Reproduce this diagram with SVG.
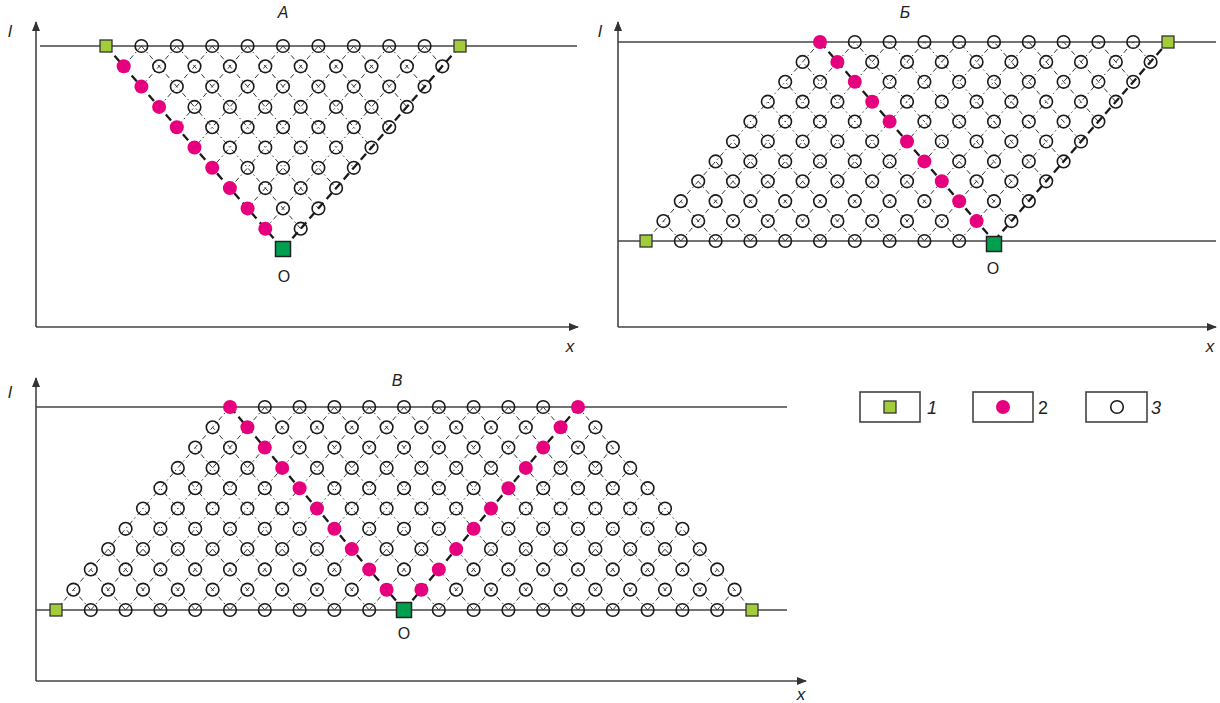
<svg xmlns="http://www.w3.org/2000/svg" width="1220" height="703" viewBox="0 0 1220 703">
<style>
.ax{stroke:#444;stroke-width:1.6;fill:none}
.hl{stroke:#444;stroke-width:1.5;fill:none}
.t{stroke:#333;stroke-width:1;stroke-dasharray:5 3 1.5 3;fill:none}
.k{stroke:#1a1a1a;stroke-width:2.3;stroke-dasharray:8 5;fill:none}
.lb{font-family:"Liberation Sans",Arial,sans-serif;fill:#222}
.it{font-style:italic}
.lg{fill:#fff;stroke:#444;stroke-width:1.6}
</style>
<defs>
<marker id="ar" markerWidth="10" markerHeight="8" refX="9" refY="4" orient="auto" markerUnits="userSpaceOnUse"><path d="M0,0 L10,4 L0,8 Z" fill="#333"/></marker>
<circle id="c" r="6.3" fill="none" stroke="#1a1a1a" stroke-width="1.6"/>
<circle id="p" r="7" fill="#e6007e"/>
<rect id="s" x="-6" y="-6" width="12" height="12" fill="#a3cc3a" stroke="#333" stroke-width="1.3"/>
<rect id="o" x="-7.5" y="-7.5" width="15" height="15" fill="#00a04f" stroke="#222" stroke-width="1.5"/>
</defs>
<rect width="1220" height="703" fill="#fff"/>

<!-- axes and reference lines -->
<g id="axes">
<line class="ax" x1="36" y1="327" x2="36" y2="22" marker-end="url(#ar)"/>
<line class="ax" x1="36" y1="327" x2="578" y2="327" marker-end="url(#ar)"/>
<line class="hl" x1="40" y1="46" x2="577" y2="46"/>
<line class="ax" x1="618" y1="327" x2="618" y2="22" marker-end="url(#ar)"/>
<line class="ax" x1="618" y1="327" x2="1216" y2="327" marker-end="url(#ar)"/>
<line class="hl" x1="618" y1="42" x2="1216" y2="42"/>
<line class="hl" x1="618" y1="241" x2="1216" y2="241"/>
<line class="ax" x1="36" y1="681" x2="36" y2="378" marker-end="url(#ar)"/>
<line class="ax" x1="36" y1="681" x2="806" y2="681" marker-end="url(#ar)"/>
<line class="hl" x1="36" y1="407" x2="787" y2="407"/>
<line class="hl" x1="36" y1="610" x2="787" y2="610"/>
</g>

<g id="connectors">
<g id="conn-A">
<line class="t" x1="141.4" y1="46" x2="300.7" y2="228.7"/>
<line class="t" x1="176.8" y1="46" x2="318.4" y2="208.4"/>
<line class="t" x1="212.2" y1="46" x2="336.1" y2="188.1"/>
<line class="t" x1="247.6" y1="46" x2="353.8" y2="167.8"/>
<line class="t" x1="283" y1="46" x2="371.5" y2="147.5"/>
<line class="t" x1="318.4" y1="46" x2="389.2" y2="127.2"/>
<line class="t" x1="353.8" y1="46" x2="406.9" y2="106.9"/>
<line class="t" x1="389.2" y1="46" x2="424.6" y2="86.6"/>
<line class="t" x1="424.6" y1="46" x2="442.3" y2="66.3"/>
<line class="t" x1="424.6" y1="46" x2="265.3" y2="228.7"/>
<line class="t" x1="389.2" y1="46" x2="247.6" y2="208.4"/>
<line class="t" x1="353.8" y1="46" x2="229.9" y2="188.1"/>
<line class="t" x1="318.4" y1="46" x2="212.2" y2="167.8"/>
<line class="t" x1="283" y1="46" x2="194.5" y2="147.5"/>
<line class="t" x1="247.6" y1="46" x2="176.8" y2="127.2"/>
<line class="t" x1="212.2" y1="46" x2="159.1" y2="106.9"/>
<line class="t" x1="176.8" y1="46" x2="141.4" y2="86.6"/>
<line class="t" x1="141.4" y1="46" x2="123.7" y2="66.3"/>
<line class="k" x1="106" y1="46" x2="283" y2="249"/>
<line class="k" x1="460" y1="46" x2="283" y2="249"/>
</g>
<g id="conn-B">
<line class="t" x1="646" y1="241" x2="820" y2="42"/>
<line class="t" x1="680.8" y1="241" x2="854.8" y2="42"/>
<line class="t" x1="715.6" y1="241" x2="889.6" y2="42"/>
<line class="t" x1="750.4" y1="241" x2="924.4" y2="42"/>
<line class="t" x1="785.2" y1="241" x2="959.2" y2="42"/>
<line class="t" x1="820" y1="241" x2="994" y2="42"/>
<line class="t" x1="854.8" y1="241" x2="1028.8" y2="42"/>
<line class="t" x1="889.6" y1="241" x2="1063.6" y2="42"/>
<line class="t" x1="924.4" y1="241" x2="1098.4" y2="42"/>
<line class="t" x1="959.2" y1="241" x2="1133.2" y2="42"/>
<line class="t" x1="680.8" y1="241" x2="663.4" y2="221.1"/>
<line class="t" x1="715.6" y1="241" x2="680.8" y2="201.2"/>
<line class="t" x1="750.4" y1="241" x2="698.2" y2="181.3"/>
<line class="t" x1="785.2" y1="241" x2="715.6" y2="161.4"/>
<line class="t" x1="820" y1="241" x2="733" y2="141.5"/>
<line class="t" x1="854.8" y1="241" x2="750.4" y2="121.6"/>
<line class="t" x1="889.6" y1="241" x2="767.8" y2="101.7"/>
<line class="t" x1="924.4" y1="241" x2="785.2" y2="81.8"/>
<line class="t" x1="959.2" y1="241" x2="802.6" y2="61.9"/>
<line class="t" x1="1011.4" y1="221.1" x2="854.8" y2="42"/>
<line class="t" x1="1028.8" y1="201.2" x2="889.6" y2="42"/>
<line class="t" x1="1046.2" y1="181.3" x2="924.4" y2="42"/>
<line class="t" x1="1063.6" y1="161.4" x2="959.2" y2="42"/>
<line class="t" x1="1081" y1="141.5" x2="994" y2="42"/>
<line class="t" x1="1098.4" y1="121.6" x2="1028.8" y2="42"/>
<line class="t" x1="1115.8" y1="101.7" x2="1063.6" y2="42"/>
<line class="t" x1="1133.2" y1="81.8" x2="1098.4" y2="42"/>
<line class="t" x1="1150.6" y1="61.9" x2="1133.2" y2="42"/>
<line class="k" x1="820" y1="42" x2="994" y2="241"/>
<line class="k" x1="994" y1="241" x2="1168" y2="42"/>
</g>
<g id="conn-V">
<line class="t" x1="56" y1="610" x2="230" y2="407"/>
<line class="t" x1="90.8" y1="610" x2="264.8" y2="407"/>
<line class="t" x1="125.6" y1="610" x2="299.6" y2="407"/>
<line class="t" x1="160.4" y1="610" x2="334.4" y2="407"/>
<line class="t" x1="195.2" y1="610" x2="369.2" y2="407"/>
<line class="t" x1="230" y1="610" x2="404" y2="407"/>
<line class="t" x1="264.8" y1="610" x2="438.8" y2="407"/>
<line class="t" x1="299.6" y1="610" x2="473.6" y2="407"/>
<line class="t" x1="334.4" y1="610" x2="508.4" y2="407"/>
<line class="t" x1="369.2" y1="610" x2="543.2" y2="407"/>
<line class="t" x1="438.8" y1="610" x2="595.4" y2="427.3"/>
<line class="t" x1="473.6" y1="610" x2="612.8" y2="447.6"/>
<line class="t" x1="508.4" y1="610" x2="630.2" y2="467.9"/>
<line class="t" x1="543.2" y1="610" x2="647.6" y2="488.2"/>
<line class="t" x1="578" y1="610" x2="665" y2="508.5"/>
<line class="t" x1="612.8" y1="610" x2="682.4" y2="528.8"/>
<line class="t" x1="647.6" y1="610" x2="699.8" y2="549.1"/>
<line class="t" x1="682.4" y1="610" x2="717.2" y2="569.4"/>
<line class="t" x1="717.2" y1="610" x2="734.6" y2="589.7"/>
<line class="t" x1="90.8" y1="610" x2="73.4" y2="589.7"/>
<line class="t" x1="125.6" y1="610" x2="90.8" y2="569.4"/>
<line class="t" x1="160.4" y1="610" x2="108.2" y2="549.1"/>
<line class="t" x1="195.2" y1="610" x2="125.6" y2="528.8"/>
<line class="t" x1="230" y1="610" x2="143" y2="508.5"/>
<line class="t" x1="264.8" y1="610" x2="160.4" y2="488.2"/>
<line class="t" x1="299.6" y1="610" x2="177.8" y2="467.9"/>
<line class="t" x1="334.4" y1="610" x2="195.2" y2="447.6"/>
<line class="t" x1="369.2" y1="610" x2="212.6" y2="427.3"/>
<line class="t" x1="438.8" y1="610" x2="264.8" y2="407"/>
<line class="t" x1="473.6" y1="610" x2="299.6" y2="407"/>
<line class="t" x1="508.4" y1="610" x2="334.4" y2="407"/>
<line class="t" x1="543.2" y1="610" x2="369.2" y2="407"/>
<line class="t" x1="578" y1="610" x2="404" y2="407"/>
<line class="t" x1="612.8" y1="610" x2="438.8" y2="407"/>
<line class="t" x1="647.6" y1="610" x2="473.6" y2="407"/>
<line class="t" x1="682.4" y1="610" x2="508.4" y2="407"/>
<line class="t" x1="717.2" y1="610" x2="543.2" y2="407"/>
<line class="t" x1="752" y1="610" x2="578" y2="407"/>
<line class="k" x1="230" y1="407" x2="404" y2="610"/>
<line class="k" x1="404" y1="610" x2="578" y2="407"/>
</g>
</g>

<!-- Panel A nodes -->
<g id="nodes-A">
<use id="a0_0" href="#o" x="283" y="249"/>
<g id="a-row1" transform="translate(265.3,228.7)"><use id="a1_0" href="#p"/><use id="a1_1" href="#c" x="35.4"/></g>
<g id="a-row2" transform="translate(247.6,208.4)"><use id="a2_0" href="#p"/><use id="a2_1" href="#c" x="35.4"/><use id="a2_2" href="#c" x="70.8"/></g>
<g id="a-row3" transform="translate(229.9,188.1)"><use id="a3_0" href="#p"/><use id="a3_1" href="#c" x="35.4"/><use id="a3_2" href="#c" x="70.8"/><use id="a3_3" href="#c" x="106.2"/></g>
<g id="a-row4" transform="translate(212.2,167.8)"><use id="a4_0" href="#p"/><use id="a4_1" href="#c" x="35.4"/><use id="a4_2" href="#c" x="70.8"/><use id="a4_3" href="#c" x="106.2"/><use id="a4_4" href="#c" x="141.6"/></g>
<g id="a-row5" transform="translate(194.5,147.5)"><use id="a5_0" href="#p"/><use id="a5_1" href="#c" x="35.4"/><use id="a5_2" href="#c" x="70.8"/><use id="a5_3" href="#c" x="106.2"/><use id="a5_4" href="#c" x="141.6"/><use id="a5_5" href="#c" x="177"/></g>
<g id="a-row6" transform="translate(176.8,127.2)"><use id="a6_0" href="#p"/><use id="a6_1" href="#c" x="35.4"/><use id="a6_2" href="#c" x="70.8"/><use id="a6_3" href="#c" x="106.2"/><use id="a6_4" href="#c" x="141.6"/><use id="a6_5" href="#c" x="177"/><use id="a6_6" href="#c" x="212.4"/></g>
<g id="a-row7" transform="translate(159.1,106.9)"><use id="a7_0" href="#p"/><use id="a7_1" href="#c" x="35.4"/><use id="a7_2" href="#c" x="70.8"/><use id="a7_3" href="#c" x="106.2"/><use id="a7_4" href="#c" x="141.6"/><use id="a7_5" href="#c" x="177"/><use id="a7_6" href="#c" x="212.4"/><use id="a7_7" href="#c" x="247.8"/></g>
<g id="a-row8" transform="translate(141.4,86.6)"><use id="a8_0" href="#p"/><use id="a8_1" href="#c" x="35.4"/><use id="a8_2" href="#c" x="70.8"/><use id="a8_3" href="#c" x="106.2"/><use id="a8_4" href="#c" x="141.6"/><use id="a8_5" href="#c" x="177"/><use id="a8_6" href="#c" x="212.4"/><use id="a8_7" href="#c" x="247.8"/><use id="a8_8" href="#c" x="283.2"/></g>
<g id="a-row9" transform="translate(123.7,66.3)"><use id="a9_0" href="#p"/><use id="a9_1" href="#c" x="35.4"/><use id="a9_2" href="#c" x="70.8"/><use id="a9_3" href="#c" x="106.2"/><use id="a9_4" href="#c" x="141.6"/><use id="a9_5" href="#c" x="177"/><use id="a9_6" href="#c" x="212.4"/><use id="a9_7" href="#c" x="247.8"/><use id="a9_8" href="#c" x="283.2"/><use id="a9_9" href="#c" x="318.6"/></g>
<g id="a-row10" transform="translate(106,46)"><use id="a10_0" href="#s"/><use id="a10_1" href="#c" x="35.4"/><use id="a10_2" href="#c" x="70.8"/><use id="a10_3" href="#c" x="106.2"/><use id="a10_4" href="#c" x="141.6"/><use id="a10_5" href="#c" x="177"/><use id="a10_6" href="#c" x="212.4"/><use id="a10_7" href="#c" x="247.8"/><use id="a10_8" href="#c" x="283.2"/><use id="a10_9" href="#c" x="318.6"/><use id="a10_10" href="#s" x="354"/></g>
</g>

<!-- Panel B nodes -->
<g id="nodes-B">
<g id="b-row0" transform="translate(646,241)"><use id="b0_0" href="#s"/><use id="b0_1" href="#c" x="34.8"/><use id="b0_2" href="#c" x="69.6"/><use id="b0_3" href="#c" x="104.4"/><use id="b0_4" href="#c" x="139.2"/><use id="b0_5" href="#c" x="174"/><use id="b0_6" href="#c" x="208.8"/><use id="b0_7" href="#c" x="243.6"/><use id="b0_8" href="#c" x="278.4"/><use id="b0_9" href="#c" x="313.2"/><use id="b0_10" href="#o" x="348" y="3"/></g>
<g id="b-row1" transform="translate(663.4,221.1)"><use id="b1_0" href="#c"/><use id="b1_1" href="#c" x="34.8"/><use id="b1_2" href="#c" x="69.6"/><use id="b1_3" href="#c" x="104.4"/><use id="b1_4" href="#c" x="139.2"/><use id="b1_5" href="#c" x="174"/><use id="b1_6" href="#c" x="208.8"/><use id="b1_7" href="#c" x="243.6"/><use id="b1_8" href="#c" x="278.4"/><use id="b1_9" href="#p" x="313.2"/><use id="b1_10" href="#c" x="348"/></g>
<g id="b-row2" transform="translate(680.8,201.2)"><use id="b2_0" href="#c"/><use id="b2_1" href="#c" x="34.8"/><use id="b2_2" href="#c" x="69.6"/><use id="b2_3" href="#c" x="104.4"/><use id="b2_4" href="#c" x="139.2"/><use id="b2_5" href="#c" x="174"/><use id="b2_6" href="#c" x="208.8"/><use id="b2_7" href="#c" x="243.6"/><use id="b2_8" href="#p" x="278.4"/><use id="b2_9" href="#c" x="313.2"/><use id="b2_10" href="#c" x="348"/></g>
<g id="b-row3" transform="translate(698.2,181.3)"><use id="b3_0" href="#c"/><use id="b3_1" href="#c" x="34.8"/><use id="b3_2" href="#c" x="69.6"/><use id="b3_3" href="#c" x="104.4"/><use id="b3_4" href="#c" x="139.2"/><use id="b3_5" href="#c" x="174"/><use id="b3_6" href="#c" x="208.8"/><use id="b3_7" href="#p" x="243.6"/><use id="b3_8" href="#c" x="278.4"/><use id="b3_9" href="#c" x="313.2"/><use id="b3_10" href="#c" x="348"/></g>
<g id="b-row4" transform="translate(715.6,161.4)"><use id="b4_0" href="#c"/><use id="b4_1" href="#c" x="34.8"/><use id="b4_2" href="#c" x="69.6"/><use id="b4_3" href="#c" x="104.4"/><use id="b4_4" href="#c" x="139.2"/><use id="b4_5" href="#c" x="174"/><use id="b4_6" href="#p" x="208.8"/><use id="b4_7" href="#c" x="243.6"/><use id="b4_8" href="#c" x="278.4"/><use id="b4_9" href="#c" x="313.2"/><use id="b4_10" href="#c" x="348"/></g>
<g id="b-row5" transform="translate(733,141.5)"><use id="b5_0" href="#c"/><use id="b5_1" href="#c" x="34.8"/><use id="b5_2" href="#c" x="69.6"/><use id="b5_3" href="#c" x="104.4"/><use id="b5_4" href="#c" x="139.2"/><use id="b5_5" href="#p" x="174"/><use id="b5_6" href="#c" x="208.8"/><use id="b5_7" href="#c" x="243.6"/><use id="b5_8" href="#c" x="278.4"/><use id="b5_9" href="#c" x="313.2"/><use id="b5_10" href="#c" x="348"/></g>
<g id="b-row6" transform="translate(750.4,121.6)"><use id="b6_0" href="#c"/><use id="b6_1" href="#c" x="34.8"/><use id="b6_2" href="#c" x="69.6"/><use id="b6_3" href="#c" x="104.4"/><use id="b6_4" href="#p" x="139.2"/><use id="b6_5" href="#c" x="174"/><use id="b6_6" href="#c" x="208.8"/><use id="b6_7" href="#c" x="243.6"/><use id="b6_8" href="#c" x="278.4"/><use id="b6_9" href="#c" x="313.2"/><use id="b6_10" href="#c" x="348"/></g>
<g id="b-row7" transform="translate(767.8,101.7)"><use id="b7_0" href="#c"/><use id="b7_1" href="#c" x="34.8"/><use id="b7_2" href="#c" x="69.6"/><use id="b7_3" href="#p" x="104.4"/><use id="b7_4" href="#c" x="139.2"/><use id="b7_5" href="#c" x="174"/><use id="b7_6" href="#c" x="208.8"/><use id="b7_7" href="#c" x="243.6"/><use id="b7_8" href="#c" x="278.4"/><use id="b7_9" href="#c" x="313.2"/><use id="b7_10" href="#c" x="348"/></g>
<g id="b-row8" transform="translate(785.2,81.8)"><use id="b8_0" href="#c"/><use id="b8_1" href="#c" x="34.8"/><use id="b8_2" href="#p" x="69.6"/><use id="b8_3" href="#c" x="104.4"/><use id="b8_4" href="#c" x="139.2"/><use id="b8_5" href="#c" x="174"/><use id="b8_6" href="#c" x="208.8"/><use id="b8_7" href="#c" x="243.6"/><use id="b8_8" href="#c" x="278.4"/><use id="b8_9" href="#c" x="313.2"/><use id="b8_10" href="#c" x="348"/></g>
<g id="b-row9" transform="translate(802.6,61.9)"><use id="b9_0" href="#c"/><use id="b9_1" href="#p" x="34.8"/><use id="b9_2" href="#c" x="69.6"/><use id="b9_3" href="#c" x="104.4"/><use id="b9_4" href="#c" x="139.2"/><use id="b9_5" href="#c" x="174"/><use id="b9_6" href="#c" x="208.8"/><use id="b9_7" href="#c" x="243.6"/><use id="b9_8" href="#c" x="278.4"/><use id="b9_9" href="#c" x="313.2"/><use id="b9_10" href="#c" x="348"/></g>
<g id="b-row10" transform="translate(820,42)"><use id="b10_0" href="#p"/><use id="b10_1" href="#c" x="34.8"/><use id="b10_2" href="#c" x="69.6"/><use id="b10_3" href="#c" x="104.4"/><use id="b10_4" href="#c" x="139.2"/><use id="b10_5" href="#c" x="174"/><use id="b10_6" href="#c" x="208.8"/><use id="b10_7" href="#c" x="243.6"/><use id="b10_8" href="#c" x="278.4"/><use id="b10_9" href="#c" x="313.2"/><use id="b10_10" href="#s" x="348"/></g>
</g>

<!-- Panel V nodes -->
<g id="nodes-V">
<g id="v-row0" transform="translate(56,610)"><use id="v0_0" href="#s"/><use id="v0_1" href="#c" x="34.8"/><use id="v0_2" href="#c" x="69.6"/><use id="v0_3" href="#c" x="104.4"/><use id="v0_4" href="#c" x="139.2"/><use id="v0_5" href="#c" x="174"/><use id="v0_6" href="#c" x="208.8"/><use id="v0_7" href="#c" x="243.6"/><use id="v0_8" href="#c" x="278.4"/><use id="v0_9" href="#c" x="313.2"/><use id="v0_10" href="#o" x="348"/><use id="v0_11" href="#c" x="382.8"/><use id="v0_12" href="#c" x="417.6"/><use id="v0_13" href="#c" x="452.4"/><use id="v0_14" href="#c" x="487.2"/><use id="v0_15" href="#c" x="522"/><use id="v0_16" href="#c" x="556.8"/><use id="v0_17" href="#c" x="591.6"/><use id="v0_18" href="#c" x="626.4"/><use id="v0_19" href="#c" x="661.2"/><use id="v0_20" href="#s" x="696"/></g>
<g id="v-row1" transform="translate(73.4,589.7)"><use id="v1_0" href="#c"/><use id="v1_1" href="#c" x="34.8"/><use id="v1_2" href="#c" x="69.6"/><use id="v1_3" href="#c" x="104.4"/><use id="v1_4" href="#c" x="139.2"/><use id="v1_5" href="#c" x="174"/><use id="v1_6" href="#c" x="208.8"/><use id="v1_7" href="#c" x="243.6"/><use id="v1_8" href="#c" x="278.4"/><use id="v1_9" href="#p" x="313.2"/><use id="v1_10" href="#p" x="348"/><use id="v1_11" href="#c" x="382.8"/><use id="v1_12" href="#c" x="417.6"/><use id="v1_13" href="#c" x="452.4"/><use id="v1_14" href="#c" x="487.2"/><use id="v1_15" href="#c" x="522"/><use id="v1_16" href="#c" x="556.8"/><use id="v1_17" href="#c" x="591.6"/><use id="v1_18" href="#c" x="626.4"/><use id="v1_19" href="#c" x="661.2"/></g>
<g id="v-row2" transform="translate(90.8,569.4)"><use id="v2_0" href="#c"/><use id="v2_1" href="#c" x="34.8"/><use id="v2_2" href="#c" x="69.6"/><use id="v2_3" href="#c" x="104.4"/><use id="v2_4" href="#c" x="139.2"/><use id="v2_5" href="#c" x="174"/><use id="v2_6" href="#c" x="208.8"/><use id="v2_7" href="#c" x="243.6"/><use id="v2_8" href="#p" x="278.4"/><use id="v2_9" href="#c" x="313.2"/><use id="v2_10" href="#p" x="348"/><use id="v2_11" href="#c" x="382.8"/><use id="v2_12" href="#c" x="417.6"/><use id="v2_13" href="#c" x="452.4"/><use id="v2_14" href="#c" x="487.2"/><use id="v2_15" href="#c" x="522"/><use id="v2_16" href="#c" x="556.8"/><use id="v2_17" href="#c" x="591.6"/><use id="v2_18" href="#c" x="626.4"/></g>
<g id="v-row3" transform="translate(108.2,549.1)"><use id="v3_0" href="#c"/><use id="v3_1" href="#c" x="34.8"/><use id="v3_2" href="#c" x="69.6"/><use id="v3_3" href="#c" x="104.4"/><use id="v3_4" href="#c" x="139.2"/><use id="v3_5" href="#c" x="174"/><use id="v3_6" href="#c" x="208.8"/><use id="v3_7" href="#p" x="243.6"/><use id="v3_8" href="#c" x="278.4"/><use id="v3_9" href="#c" x="313.2"/><use id="v3_10" href="#p" x="348"/><use id="v3_11" href="#c" x="382.8"/><use id="v3_12" href="#c" x="417.6"/><use id="v3_13" href="#c" x="452.4"/><use id="v3_14" href="#c" x="487.2"/><use id="v3_15" href="#c" x="522"/><use id="v3_16" href="#c" x="556.8"/><use id="v3_17" href="#c" x="591.6"/></g>
<g id="v-row4" transform="translate(125.6,528.8)"><use id="v4_0" href="#c"/><use id="v4_1" href="#c" x="34.8"/><use id="v4_2" href="#c" x="69.6"/><use id="v4_3" href="#c" x="104.4"/><use id="v4_4" href="#c" x="139.2"/><use id="v4_5" href="#c" x="174"/><use id="v4_6" href="#p" x="208.8"/><use id="v4_7" href="#c" x="243.6"/><use id="v4_8" href="#c" x="278.4"/><use id="v4_9" href="#c" x="313.2"/><use id="v4_10" href="#p" x="348"/><use id="v4_11" href="#c" x="382.8"/><use id="v4_12" href="#c" x="417.6"/><use id="v4_13" href="#c" x="452.4"/><use id="v4_14" href="#c" x="487.2"/><use id="v4_15" href="#c" x="522"/><use id="v4_16" href="#c" x="556.8"/></g>
<g id="v-row5" transform="translate(143,508.5)"><use id="v5_0" href="#c"/><use id="v5_1" href="#c" x="34.8"/><use id="v5_2" href="#c" x="69.6"/><use id="v5_3" href="#c" x="104.4"/><use id="v5_4" href="#c" x="139.2"/><use id="v5_5" href="#p" x="174"/><use id="v5_6" href="#c" x="208.8"/><use id="v5_7" href="#c" x="243.6"/><use id="v5_8" href="#c" x="278.4"/><use id="v5_9" href="#c" x="313.2"/><use id="v5_10" href="#p" x="348"/><use id="v5_11" href="#c" x="382.8"/><use id="v5_12" href="#c" x="417.6"/><use id="v5_13" href="#c" x="452.4"/><use id="v5_14" href="#c" x="487.2"/><use id="v5_15" href="#c" x="522"/></g>
<g id="v-row6" transform="translate(160.4,488.2)"><use id="v6_0" href="#c"/><use id="v6_1" href="#c" x="34.8"/><use id="v6_2" href="#c" x="69.6"/><use id="v6_3" href="#c" x="104.4"/><use id="v6_4" href="#p" x="139.2"/><use id="v6_5" href="#c" x="174"/><use id="v6_6" href="#c" x="208.8"/><use id="v6_7" href="#c" x="243.6"/><use id="v6_8" href="#c" x="278.4"/><use id="v6_9" href="#c" x="313.2"/><use id="v6_10" href="#p" x="348"/><use id="v6_11" href="#c" x="382.8"/><use id="v6_12" href="#c" x="417.6"/><use id="v6_13" href="#c" x="452.4"/><use id="v6_14" href="#c" x="487.2"/></g>
<g id="v-row7" transform="translate(177.8,467.9)"><use id="v7_0" href="#c"/><use id="v7_1" href="#c" x="34.8"/><use id="v7_2" href="#c" x="69.6"/><use id="v7_3" href="#p" x="104.4"/><use id="v7_4" href="#c" x="139.2"/><use id="v7_5" href="#c" x="174"/><use id="v7_6" href="#c" x="208.8"/><use id="v7_7" href="#c" x="243.6"/><use id="v7_8" href="#c" x="278.4"/><use id="v7_9" href="#c" x="313.2"/><use id="v7_10" href="#p" x="348"/><use id="v7_11" href="#c" x="382.8"/><use id="v7_12" href="#c" x="417.6"/><use id="v7_13" href="#c" x="452.4"/></g>
<g id="v-row8" transform="translate(195.2,447.6)"><use id="v8_0" href="#c"/><use id="v8_1" href="#c" x="34.8"/><use id="v8_2" href="#p" x="69.6"/><use id="v8_3" href="#c" x="104.4"/><use id="v8_4" href="#c" x="139.2"/><use id="v8_5" href="#c" x="174"/><use id="v8_6" href="#c" x="208.8"/><use id="v8_7" href="#c" x="243.6"/><use id="v8_8" href="#c" x="278.4"/><use id="v8_9" href="#c" x="313.2"/><use id="v8_10" href="#p" x="348"/><use id="v8_11" href="#c" x="382.8"/><use id="v8_12" href="#c" x="417.6"/></g>
<g id="v-row9" transform="translate(212.6,427.3)"><use id="v9_0" href="#c"/><use id="v9_1" href="#p" x="34.8"/><use id="v9_2" href="#c" x="69.6"/><use id="v9_3" href="#c" x="104.4"/><use id="v9_4" href="#c" x="139.2"/><use id="v9_5" href="#c" x="174"/><use id="v9_6" href="#c" x="208.8"/><use id="v9_7" href="#c" x="243.6"/><use id="v9_8" href="#c" x="278.4"/><use id="v9_9" href="#c" x="313.2"/><use id="v9_10" href="#p" x="348"/><use id="v9_11" href="#c" x="382.8"/></g>
<g id="v-row10" transform="translate(230,407)"><use id="v10_0" href="#p"/><use id="v10_1" href="#c" x="34.8"/><use id="v10_2" href="#c" x="69.6"/><use id="v10_3" href="#c" x="104.4"/><use id="v10_4" href="#c" x="139.2"/><use id="v10_5" href="#c" x="174"/><use id="v10_6" href="#c" x="208.8"/><use id="v10_7" href="#c" x="243.6"/><use id="v10_8" href="#c" x="278.4"/><use id="v10_9" href="#c" x="313.2"/><use id="v10_10" href="#p" x="348"/></g>
</g>

<!-- labels -->
<g id="labels">
<text class="lb it" x="283" y="18" font-size="16" text-anchor="middle">А</text>
<text class="lb it" x="905" y="18" font-size="16" text-anchor="middle">Б</text>
<text class="lb it" x="397" y="386" font-size="16" text-anchor="middle">В</text>
<text class="lb it" x="8" y="37" font-size="17">l</text>
<text class="lb it" x="598" y="37" font-size="17">l</text>
<text class="lb it" x="8" y="398" font-size="17">l</text>
<text class="lb it" x="570" y="352" font-size="17" text-anchor="middle">x</text>
<text class="lb it" x="1210" y="352" font-size="17" text-anchor="middle">x</text>
<text class="lb it" x="801" y="700" font-size="17" text-anchor="middle">x</text>
<text class="lb" x="284" y="282" font-size="16" text-anchor="middle">O</text>
<text class="lb" x="993" y="274" font-size="16" text-anchor="middle">O</text>
<text class="lb" x="404" y="639" font-size="16" text-anchor="middle">O</text>
</g>

<!-- legend -->
<g id="legend-1"><rect class="lg" x="860" y="392" width="60" height="30"/><use href="#s" x="890" y="407"/><text class="lb it" x="927" y="414" font-size="18">1</text></g>
<g id="legend-2"><rect class="lg" x="973" y="392" width="60" height="30"/><use href="#p" x="1003" y="407"/><text class="lb" x="1038" y="414" font-size="18">2</text></g>
<g id="legend-3"><rect class="lg" x="1086" y="392" width="61" height="30"/><use href="#c" x="1117" y="407"/><text class="lb it" x="1151" y="414" font-size="18">3</text></g>
</svg>
